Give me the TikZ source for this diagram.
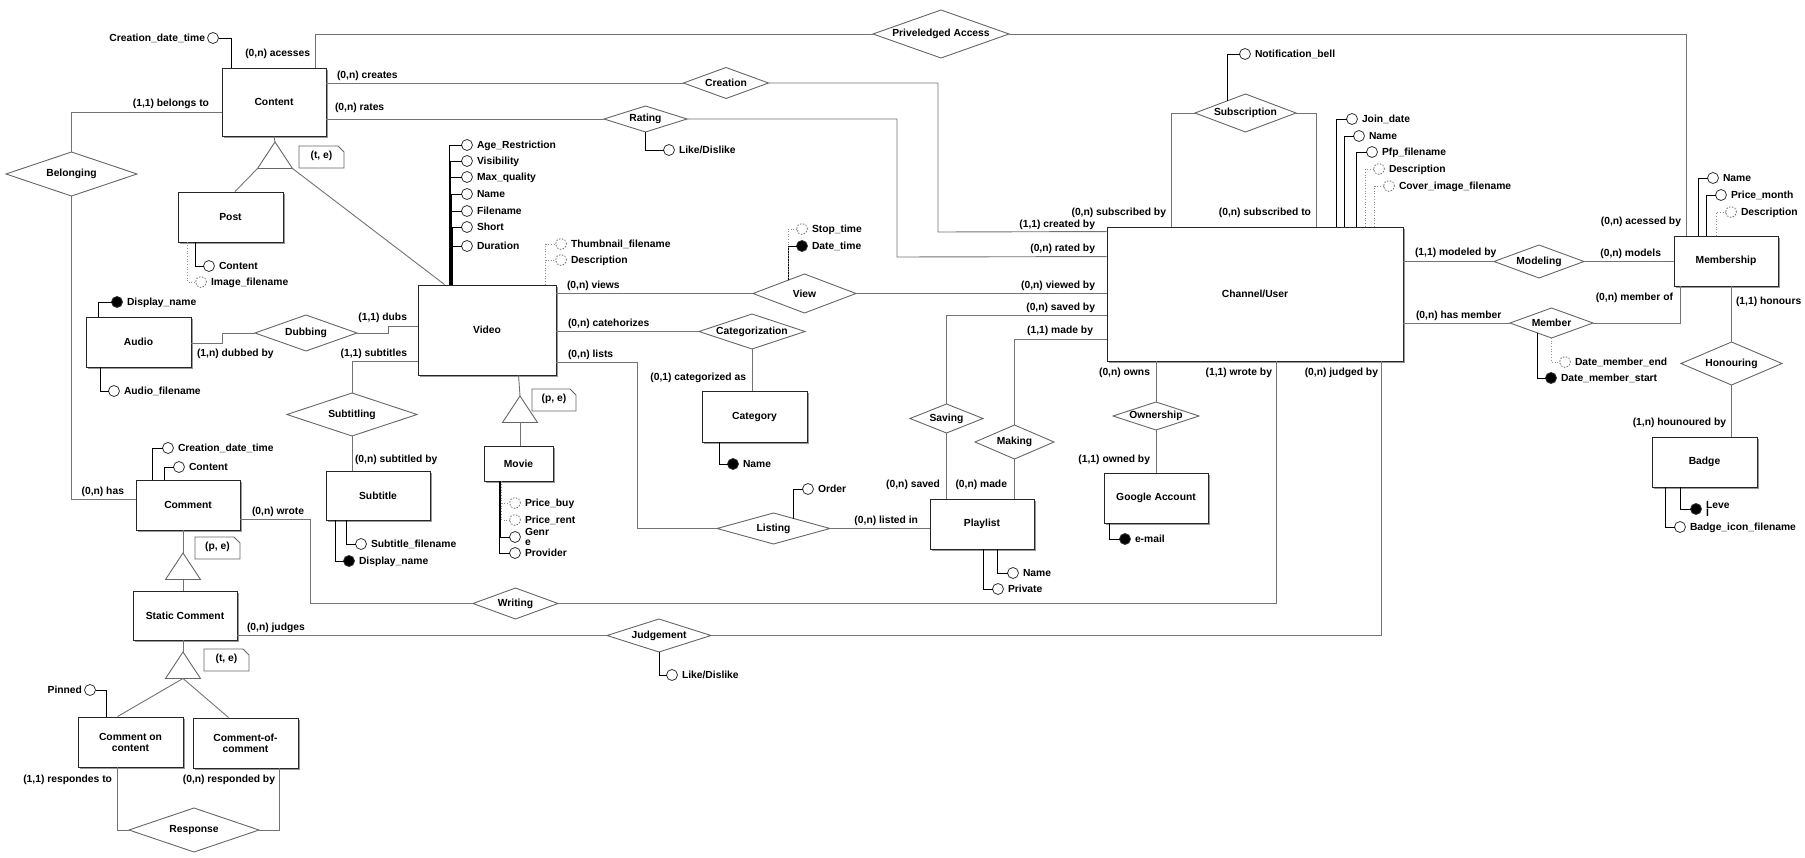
\documentclass[tikz,border=0pt]{standalone}
\usepackage{fontspec}
\setmainfont{Liberation Sans}
\usetikzlibrary{shapes.geometric,shadows,calc}
\newcommand\mkent[6]{\node[entity,minimum width=#4pt,minimum height=#5pt] (#1) at (#2,#3) {#6};}
\newcommand\mkrel[7]{\node[relsh,minimum width=#4pt,minimum height=#5pt,aspect=#6] (#1) at (#2,#3) {#7};}
\newcommand\mkisa[3]{%
 \coordinate (#1-a) at (#2,#3);
 \coordinate (#1-l) at ({#2-17.5},{#3+26.5});
 \coordinate (#1-r) at ({#2+17.5},{#3+26.5});
 \coordinate (#1-b) at (#2,{#3+26.5});
 \draw[tri] (#1-a) -- (#1-l) -- (#1-r) -- cycle;}
\newcommand\mknote[6]{%
 \draw[notest] (#2,#3) -- ({#4-6},#3) -- (#4,{#3+6}) -- (#4,#5) -- (#2,#5) -- cycle;
 \node[lab] (#1) at ({(#2+#4)/2},{(#3+#5)/2-1.5}) {#6};}
\newcommand\attR[5]{\node[#4] (#1) at (#2,#3) {}; \node[lab,anchor=base west] (#1-t) at ([xshift=4.5pt,yshift=-3.6pt]#1.east) {#5};}
\newcommand\attL[5]{\node[#4] (#1) at (#2,#3) {}; \node[lab,anchor=base east] (#1-t) at ([xshift=-2.5pt,yshift=-3.6pt]#1.west) {#5};}
\newcommand\cardL[4]{\node[lab,anchor=base west] (#1) at (#2,{#3+3.5}) {#4};}
\newcommand\cardR[4]{\node[lab,anchor=base east] (#1) at (#2,{#3+3.5}) {#4};}
\begin{document}
\begin{tikzpicture}[x=1pt,y=-1pt,
  every node/.style={font=\bfseries\fontsize{10.3}{11}\selectfont},
  entity/.style={draw=black!85,line width=0.9pt,fill=white,inner sep=0pt,align=center,
    drop shadow={shadow xshift=1.6pt,shadow yshift=-1.6pt,fill=black!40,opacity=1}},
  relsh/.style={diamond,draw=black!60,line width=0.9pt,fill=white,inner sep=0pt,outer sep=0pt},
  lab/.style={inner sep=0pt,outer sep=0pt},
  attr/.style={circle,draw=black!80,line width=0.8pt,fill=white,minimum size=11pt,inner sep=0pt,outer sep=0pt},
  attrk/.style={attr,fill=black},
  attro/.style={attr,draw=black!55,dash pattern=on 1.5pt off 1.5pt},
  conn/.style={draw=black!55,line width=0.9pt},
  aline/.style={draw=black,line width=0.9pt},
  oline/.style={draw=black!45,line width=0.7pt,dotted},
  tri/.style={draw=black!60,line width=0.9pt,fill=white},
  notest/.style={draw=black!60,line width=0.8pt,fill=white}
]
\fill[white] (0,0) rectangle (1805,858);
\useasboundingbox (0,0) rectangle (1805,858);

% ---------- entities ----------
\mkent{content}{274}{102}{104}{68}{Content}
\mkent{post}{230.5}{217}{105}{50}{Post}
\mkent{video}{487}{330}{138}{90}{Video}
\mkent{audio}{138.5}{342}{105}{50}{Audio}
\mkent{subtitle}{378}{495.5}{104}{49}{Subtitle}
\mkent{comment}{188}{505}{104}{50}{Comment}
\mkent{static}{185}{615.5}{104}{49}{Static Comment}
\mkent{coc}{130.5}{742}{105}{50}{Comment on\\content}
\mkent{cofc}{245.5}{743}{105}{50}{Comment-of-\\comment}
\mkent{movie}{518.5}{463.5}{69}{35}{Movie}
\mkent{category}{754.5}{416.5}{105}{51}{Category}
\mkent{playlist}{982}{524}{104}{50}{Playlist}
\mkent{google}{1156}{498}{104}{50}{Google Account}
\mkent{channel}{1255}{294}{296}{134}{Channel/User}
\mkent{membership}{1726}{261}{104}{50}{Membership}
\mkent{badge}{1704.5}{462}{105}{50}{Badge}

% ---------- relationships ----------
\mkrel{priv}{941}{34}{136}{48}{2.83}{Priveledged Access}
\mkrel{creation}{726}{83}{85}{31}{2.74}{Creation}
\mkrel{rating}{645.5}{119}{83}{26}{3.19}{Rating}
\mkrel{belonging}{71.5}{174}{131}{44}{2.98}{Belonging}
\mkrel{view}{804.5}{293.5}{103}{39}{2.64}{View}
\mkrel{categ}{752}{331.5}{106}{35}{3.03}{Categorization}
\mkrel{listing}{773.5}{528.5}{113}{31}{3.65}{Listing}
\mkrel{dubbing}{306}{333}{102}{36}{2.83}{Dubbing}
\mkrel{subtitling}{352}{414.5}{130}{43}{3.02}{Subtitling}
\mkrel{writing}{515.5}{603.5}{85}{31}{2.74}{Writing}
\mkrel{judgement}{659}{635.5}{104}{33}{3.15}{Judgement}
\mkrel{response}{194}{830}{130}{44}{2.95}{Response}
\mkrel{saving}{946.5}{418.5}{73}{29}{2.52}{Saving}
\mkrel{making}{1014.5}{442}{79}{34}{2.32}{Making}
\mkrel{ownership}{1156}{416}{86}{28}{3.07}{Ownership}
\mkrel{subscription}{1245.5}{113}{101}{38}{2.66}{Subscription}
\mkrel{modeling}{1539}{261.5}{90}{33}{2.73}{Modeling}
\mkrel{member}{1551.5}{323}{83}{30}{2.77}{Member}
\mkrel{honouring}{1731.5}{363.5}{101}{43}{2.35}{Honouring}

% ---------- specialisation triangles and notes ----------
\mkisa{t1}{275}{142}
\mkisa{t2}{520}{396}
\mkisa{t3}{183}{553}
\mkisa{t4}{183}{652}
\mknote{n1}{299}{146}{344}{168}{(t, e)}
\mknote{n2}{532}{389}{576}{411}{(p, e)}
\mknote{n3}{195}{537}{240}{559}{(p, e)}
\mknote{n4}{204}{649}{249}{671}{(t, e)}

% ---------- attributes ----------
\attL{a-cdt}{213}{38}{attr}{Creation\_date\_time}
\attR{a-pc}{209}{266}{attr}{Content}
\attR{a-pi}{201}{282}{attro}{Image\_filename}
\attR{a-v1}{467}{145}{attr}{Age\_Restriction}
\attR{a-v2}{467}{161}{attr}{Visibility}
\attR{a-v3}{467}{177}{attr}{Max\_quality}
\attR{a-v4}{467}{194}{attr}{Name}
\attR{a-v5}{467}{211}{attr}{Filename}
\attR{a-v6}{467}{227}{attr}{Short}
\attR{a-v7}{467}{246}{attr}{Duration}
\attR{a-v8}{561}{244}{attro}{Thumbnail\_filename}
\attR{a-v9}{561}{260}{attro}{Description}
\attR{a-w1}{802}{229}{attro}{Stop\_time}
\attR{a-w2}{802}{246}{attrk}{Date\_time}
\attR{a-r1}{669}{150}{attr}{Like/Dislike}
\attR{a-c1}{1352}{119}{attr}{Join\_date}
\attR{a-c2}{1359}{136}{attr}{Name}
\attR{a-c3}{1372}{152}{attr}{Pfp\_filename}
\attR{a-c4}{1379}{169}{attro}{Description}
\attR{a-c5}{1389}{186}{attro}{Cover\_image\_filename}
\attR{a-s1}{1245}{54}{attr}{Notification\_bell}
\attR{a-m1}{1713}{178}{attr}{Name}
\attR{a-m2}{1721}{195}{attr}{Price\_month}
\attR{a-m3}{1731}{212}{attro}{Description}
\attR{a-mb1}{1565}{362}{attro}{Date\_member\_end}
\attR{a-mb2}{1551}{378}{attrk}{Date\_member\_start}
\node[attrk] (a-b1) at (1696,509) {};
\node[lab,anchor=west,align=left,font=\bfseries\fontsize{10.3}{8.5}\selectfont] (a-b1-t) at ([xshift=4.5pt]a-b1.east) {Leve\\l};
\attR{a-b2}{1680}{527}{attr}{Badge\_icon\_filename}
\attR{a-au1}{117}{302}{attrk}{Display\_name}
\attR{a-au2}{114}{391}{attr}{Audio\_filename}
\attR{a-st1}{361}{544}{attr}{Subtitle\_filename}
\attR{a-st2}{349}{561}{attrk}{Display\_name}
\attR{a-cm1}{168}{448}{attr}{Creation\_date\_time}
\attR{a-cm2}{179}{467}{attr}{Content}
\attR{a-mv1}{515}{503}{attro}{Price\_buy}
\attR{a-mv2}{515}{520}{attro}{Price\_rent}
\node[attr] (a-mv3) at (515,537) {};
\node[lab,anchor=west,align=left,font=\bfseries\fontsize{10.3}{9.5}\selectfont] (a-mv3-t) at ([xshift=4.5pt]a-mv3.east) {Genr\\e};
\attR{a-mv4}{515}{553}{attr}{Provider}
\attR{a-ct1}{733}{464}{attrk}{Name}
\attR{a-l1}{808}{489}{attr}{Order}
\attR{a-p1}{1013}{573}{attr}{Name}
\attR{a-p2}{998}{589}{attr}{Private}
\attR{a-g1}{1125}{539}{attrk}{e-mail}
\attR{a-j1}{672}{675}{attr}{Like/Dislike}
\attL{a-pin}{90}{690}{attr}{Pinned}

% ---------- attribute lines ----------
\draw[aline] ([xshift=10pt]content.north west) |- (a-cdt);
\draw[aline] ([xshift=18pt]post.south west) |- (a-pc);
\draw[oline] ([xshift=10pt]post.south west) |- (a-pi);
\foreach \i/\s in {1/32,2/32.5,3/33,4/33.5,5/34,6/34.5,7/35}
  \draw[aline] ([xshift=\s pt]video.north west) |- (a-v\i);
\draw[oline] ([xshift=128pt]video.north west) |- (a-v8);
\draw[oline] ([xshift=128pt]video.north west) |- (a-v9);
\coordinate (vw) at ($(view.north)!0.32!(view.west)$);
\draw[aline] (vw) |- (a-w2);
\draw[oline] (vw) |- (a-w1);
\draw[aline] (rating.south) |- (a-r1);
\draw[aline] ([xshift=230pt]channel.north west) |- (a-c1);
\draw[aline] ([xshift=238pt]channel.north west) |- (a-c2);
\draw[aline] ([xshift=250pt]channel.north west) |- (a-c3);
\draw[oline] ([xshift=259pt]channel.north west) |- (a-c4);
\draw[oline] ([xshift=268pt]channel.north west) |- (a-c5);
\draw[aline] ($(subscription.north)!0.35!(subscription.west)$) |- (a-s1);
\draw[aline] ([xshift=25pt]membership.north west) |- (a-m1);
\draw[aline] ([xshift=33pt]membership.north west) |- (a-m2);
\draw[oline] ([xshift=43pt]membership.north west) |- (a-m3);
\draw[oline] (member.south) |- (a-mb1);
\draw[aline] ($(member.south)!0.35!(member.west)$) |- (a-mb2);
\draw[aline] ([xshift=29pt]badge.south west) |- (a-b1);
\draw[aline] ([xshift=14pt]badge.south west) |- (a-b2);
\draw[aline] ([xshift=13pt]audio.north west) |- (a-au1);
\draw[aline] ([xshift=15pt]audio.south west) |- (a-au2);
\draw[aline] ([xshift=21pt]subtitle.south west) |- (a-st1);
\draw[aline] ([xshift=10pt]subtitle.south west) |- (a-st2);
\draw[aline] ([xshift=17pt]comment.north west) |- (a-cm1);
\draw[aline] ([xshift=29pt]comment.north west) |- (a-cm2);
\draw[oline] ([xshift=18pt]movie.south west) |- (a-mv1);
\draw[oline] ([xshift=18pt]movie.south west) |- (a-mv2);
\draw[aline] ([xshift=17pt]movie.south west) |- (a-mv3);
\draw[aline] ([xshift=16pt]movie.south west) |- (a-mv4);
\draw[aline] ([xshift=18pt]category.south west) |- (a-ct1);
\draw[aline] ($(listing.north)!0.36!(listing.east)$) |- (a-l1);
\draw[aline] ([xshift=68pt]playlist.south west) |- (a-p1);
\draw[aline] ([xshift=54pt]playlist.south west) |- (a-p2);
\draw[aline] ([xshift=6pt]google.south west) |- (a-g1);
\draw[aline] (judgement.south) |- (a-j1);
\draw[aline] ([xshift=29pt]coc.north west) |- (a-pin);

% ---------- relationship connectors ----------
\draw[conn] ([xshift=94pt]content.north west) |- (priv.west);
\draw[conn] (priv.east) -| ([xshift=13pt]membership.north west);
\draw[conn] (creation.west -| content.east) -- (creation.west);
\draw[conn] (creation.east) -| (938,232) -- ([yshift=-5pt]channel.north west);
\draw[conn] (rating.west -| content.east) -- (rating.west);
\draw[conn] (rating.east) -| (897,257) -- ([yshift=-30pt]channel.north west);
\draw[conn] ([yshift=-10pt]content.west) -| (belonging.north);
\draw[conn] (belonging.south) |- ([yshift=6pt]comment.west);
\draw[conn] (content.south) -- (t1-a);
\draw[conn] (t1-l) -- ([xshift=4.5pt]post.north);
\draw[conn] (t1-r) -- ([xshift=27pt]video.north west);
\draw[conn] (view.west -| video.east) -- (view.west);
\draw[conn] (view.east) -- (view.east -| channel.west);
\draw[conn] (categ.west -| video.east) -- (categ.west);
\draw[conn] (categ.south) -- (categ.south |- category.north);
\draw[conn] ([yshift=-32pt]video.east) -| (637,528.5) -- (listing.west);
\draw[conn] (listing.east) -- (listing.east -| playlist.west);
\draw[conn] ([yshift=-21pt]channel.west) -| (saving.north);
\draw[conn] (saving.south) -- (saving.south |- playlist.north);
\draw[conn] ([yshift=-45pt]channel.west) -| (making.north);
\draw[conn] (making.south) -- (making.south |- playlist.north);
\draw[conn] (ownership.north |- channel.south) -- (ownership.north);
\draw[conn] (ownership.south) -- (ownership.south |- google.north);
\draw[conn] ([xshift=170pt]channel.south west) |- (writing.east);
\draw[conn] ([yshift=-14pt]comment.east) -| (310,603.5) -- (writing.west);
\draw[conn] ([xshift=275pt]channel.south west) |- (judgement.east);
\draw[conn] (judgement.west -| static.east) -- (judgement.west);
\draw[conn] ([yshift=-1pt]audio.east) -| (222,333) -- (dubbing.west);
\draw[conn] (dubbing.east) -| (388,326) -- ([yshift=4pt]video.west);
\draw[conn] ([yshift=-31pt]video.west) -| (subtitling.north);
\draw[conn] (subtitling.south) -- (subtitling.south |- subtitle.north);
\draw[conn] ([xshift=-5pt]comment.south) -- (t3-a);
\draw[conn] (t3-b) -- (t3-b |- static.north);
\draw[conn] ([xshift=-2pt]static.south) -- (t4-a);
\draw[conn] (t4-b) -- ([xshift=40pt]coc.north west);
\draw[conn] (t4-b) -- ([xshift=36pt]cofc.north west);
\draw[conn] ([xshift=40pt]coc.south west) |- (response.west);
\draw[conn] ([xshift=87pt]cofc.south west) |- (response.east);
\draw[conn] ([xshift=101pt]video.south west) -- (t2-a);
\draw[conn] (t2-b) -- (t2-b |- movie.north);
\draw[conn] (subscription.west) -| ([xshift=65pt]channel.north west);
\draw[conn] (subscription.east) -| ([xshift=210pt]channel.north west);
\draw[conn] (modeling.west -| channel.east) -- (modeling.west);
\draw[conn] (modeling.east) -- (modeling.east -| membership.west);
\draw[conn] (member.west -| channel.east) -- (member.west);
\draw[conn] (member.east) -| ([xshift=7pt]membership.south west);
\draw[conn] (honouring.north |- membership.south) -- (honouring.north);
\draw[conn] (honouring.south) -- (honouring.south |- badge.north);

% ---------- cardinality labels ----------
\cardR{c1}{310}{53}{(0,n) acesses}
\cardR{c2}{1681}{221}{(0,n) acessed by}
\cardL{c3}{337}{75}{(0,n) creates}
\cardR{c4}{1095}{224}{(1,1) created by}
\cardL{c5}{335}{107}{(0,n) rates}
\cardR{c6}{1095}{248}{(0,n) rated by}
\cardR{c7}{209}{103}{(1,1) belongs to}
\cardR{c8}{124}{491}{(0,n) has}
\cardL{c9}{567}{285}{(0,n) views}
\cardR{c10}{1095}{285}{(0,n) viewed by}
\cardL{c11}{568}{323}{(0,n) catehorizes}
\cardR{c12}{746}{377}{(0,1) categorized as}
\cardL{c13}{568}{354}{(0,n) lists}
\cardR{c14}{918}{520}{(0,n) listed in}
\cardR{c15}{1095}{307}{(0,n) saved by}
\cardR{c16}{1093}{330}{(1,1) made by}
\cardR{c17}{940}{484}{(0,n) saved}
\cardR{c18}{1007}{484}{(0,n) made}
\cardR{c19}{1150}{372}{(0,n) owns}
\cardR{c20}{1150}{459}{(1,1) owned by}
\cardR{c21}{1272}{372}{(1,1) wrote by}
\cardR{c22}{1378}{372}{(0,n) judged by}
\cardL{c23}{252}{511}{(0,n) wrote}
\cardL{c24}{247}{627}{(0,n) judges}
\cardL{c25}{197}{353}{(1,n) dubbed by}
\cardR{c26}{407}{317}{(1,1) dubs}
\cardR{c27}{407}{353}{(1,1) subtitles}
\cardL{c28}{355}{459}{(0,n) subtitled by}
\cardR{c29}{112}{779}{(1,1) respondes to}
\cardR{c30}{275}{779}{(0,n) responded by}
\cardR{c31}{1166}{212}{(0,n) subscribed by}
\cardR{c32}{1311}{212}{(0,n) subscribed to}
\cardL{c33}{1415}{252}{(1,1) modeled by}
\cardR{c34}{1661}{253}{(0,n) models}
\cardL{c35}{1416}{315}{(0,n) has member}
\cardR{c36}{1673}{297}{(0,n) member of}
\cardL{c37}{1736}{301}{(1,1) honours}
\cardR{c38}{1726}{422}{(1,n) hounoured by}
\end{tikzpicture}
\end{document}
